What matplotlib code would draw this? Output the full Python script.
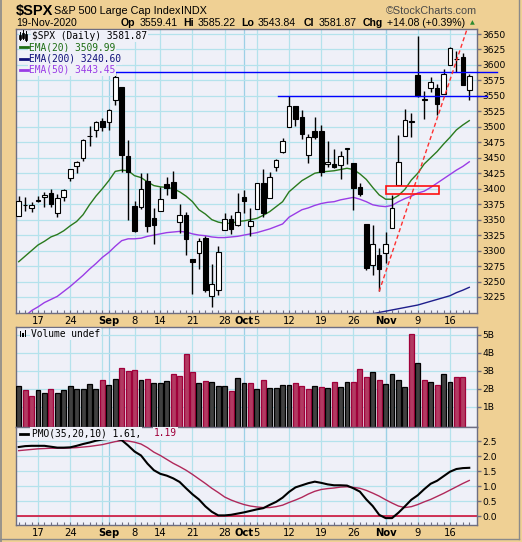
import matplotlib
matplotlib.use("Agg")
import matplotlib.pyplot as plt
from matplotlib.patches import Rectangle
from matplotlib.lines import Line2D
import matplotlib.transforms as mtrans
import numpy as np

# ---------------- data ----------------
dates = ["Aug12","Aug13","Aug14","Aug17","Aug18","Aug19","Aug20","Aug21","Aug24","Aug25",
         "Aug26","Aug27","Aug28","Aug31","Sep1","Sep2","Sep3","Sep4","Sep8","Sep9",
         "Sep10","Sep11","Sep14","Sep15","Sep16","Sep17","Sep18","Sep21","Sep22","Sep23",
         "Sep24","Sep25","Sep28","Sep29","Sep30","Oct1","Oct2","Oct5","Oct6","Oct7",
         "Oct8","Oct9","Oct12","Oct13","Oct14","Oct15","Oct16","Oct19","Oct20","Oct21",
         "Oct22","Oct23","Oct26","Oct27","Oct28","Oct29","Oct30","Nov2","Nov3","Nov4",
         "Nov5","Nov6","Nov9","Nov10","Nov11","Nov12","Nov13","Nov16","Nov17","Nov18","Nov19"]

opens = [3355.46, 3372.95, 3368.66, 3380.86, 3387.04, 3392.51, 3360.48, 3386.01, 3418.09, 3435.95,
         3449.97, 3485.14, 3494.69, 3509.73, 3507.44, 3543.76, 3564.74, 3453.60, 3371.88, 3369.82,
         3412.56, 3352.70, 3363.56, 3407.73, 3411.23, 3346.86, 3357.38, 3285.57, 3295.75, 3320.11,
         3226.14, 3236.66, 3333.90, 3350.92, 3341.21, 3385.87, 3338.94, 3367.27, 3408.74, 3384.56,
         3434.28, 3459.67, 3500.02, 3534.01, 3515.47, 3453.72, 3493.50, 3493.66, 3439.38, 3439.91,
         3438.50, 3464.90, 3441.42, 3403.15, 3342.48, 3277.17, 3293.59, 3296.20, 3336.25, 3406.46,
         3485.74, 3508.34, 3583.04, 3543.26, 3563.22, 3562.67, 3552.57, 3600.16, 3610.31, 3612.09, 3559.41]
highs = [3387.89, 3387.24, 3378.51, 3387.59, 3395.06, 3399.54, 3390.80, 3399.96, 3432.09, 3444.21,
         3481.07, 3501.38, 3509.23, 3514.77, 3528.03, 3588.11, 3564.85, 3479.15, 3379.97, 3424.77,
         3425.55, 3368.95, 3402.93, 3419.48, 3428.92, 3375.17, 3362.27, 3285.57, 3320.31, 3323.35,
         3278.70, 3306.88, 3360.74, 3357.92, 3393.56, 3397.18, 3369.10, 3409.57, 3431.56, 3426.26,
         3447.28, 3482.34, 3549.85, 3534.01, 3527.94, 3489.08, 3515.76, 3502.42, 3476.93, 3464.86,
         3460.53, 3466.46, 3441.42, 3409.51, 3342.48, 3341.05, 3304.93, 3330.14, 3389.49, 3486.25,
         3529.05, 3521.58, 3645.99, 3557.22, 3581.16, 3569.02, 3593.66, 3628.51, 3623.11, 3619.09, 3585.22]
lows = [3355.46, 3363.35, 3361.64, 3379.22, 3370.15, 3369.66, 3354.69, 3379.31, 3413.13, 3425.84,
        3444.15, 3468.35, 3484.32, 3493.25, 3494.60, 3535.23, 3427.41, 3349.63, 3329.27, 3366.84,
        3329.25, 3310.47, 3363.56, 3389.25, 3384.45, 3328.82, 3292.40, 3229.10, 3270.95, 3232.57,
        3209.45, 3228.44, 3332.91, 3327.54, 3340.47, 3361.39, 3323.69, 3367.27, 3354.54, 3384.56,
        3428.15, 3458.07, 3499.61, 3500.86, 3480.55, 3440.89, 3480.45, 3419.93, 3435.65, 3433.06,
        3415.34, 3440.45, 3364.86, 3388.71, 3268.89, 3259.82, 3233.94, 3279.74, 3336.25, 3405.17,
        3485.74, 3484.34, 3547.48, 3511.91, 3557.00, 3518.58, 3552.57, 3600.16, 3588.68, 3567.33, 3543.84]
closes = [3380.35, 3373.43, 3372.85, 3381.99, 3389.78, 3374.85, 3385.51, 3397.16, 3431.28, 3443.62,
          3478.73, 3484.55, 3508.01, 3500.31, 3526.65, 3580.84, 3455.06, 3426.96, 3331.84, 3398.96,
          3339.19, 3340.97, 3383.54, 3401.20, 3385.49, 3357.01, 3319.47, 3281.06, 3315.57, 3236.92,
          3246.59, 3298.46, 3351.60, 3335.47, 3363.00, 3380.80, 3348.42, 3408.60, 3360.97, 3419.44,
          3446.83, 3477.14, 3534.22, 3511.93, 3488.67, 3483.34, 3483.81, 3426.92, 3443.12, 3435.56,
          3453.49, 3465.39, 3400.97, 3390.68, 3271.03, 3310.11, 3269.96, 3310.24, 3369.16, 3443.44,
          3510.45, 3509.44, 3550.50, 3545.53, 3572.66, 3537.01, 3585.15, 3626.91, 3609.53, 3567.79, 3581.87]

ema20 = [3282, 3291, 3300, 3309, 3315, 3322, 3326, 3332, 3340, 3347,
         3358, 3374, 3388, 3400, 3413, 3428, 3430, 3429, 3421, 3418,
         3411, 3405, 3403, 3402, 3400, 3395, 3388, 3379, 3366, 3359,
         3350, 3346, 3344, 3344, 3347, 3348, 3350, 3352, 3357, 3363,
         3371, 3379, 3395, 3404, 3413, 3419, 3425, 3427, 3428, 3429,
         3431, 3433, 3431, 3424, 3415, 3402, 3390, 3383, 3383, 3389,
         3399, 3414, 3425, 3440, 3450, 3460, 3472, 3483, 3495, 3503, 3509.99]
ema50 = [3188, 3194, 3203, 3209, 3216, 3221, 3226, 3234, 3242, 3251,
         3260, 3270, 3279, 3289, 3297, 3307, 3316, 3319, 3319, 3320,
         3323, 3325, 3327, 3329, 3330, 3331, 3330, 3327, 3325, 3324,
         3322, 3321, 3321, 3322, 3323, 3325, 3327, 3329, 3332, 3335,
         3339, 3343, 3354, 3360, 3366, 3369, 3373, 3376, 3378, 3379,
         3382, 3384, 3386, 3383, 3379, 3374, 3372, 3371, 3373, 3379,
         3384, 3388, 3393, 3396, 3402, 3409, 3416, 3423, 3430, 3436, 3443.45]
ema200_start = 55
ema200 = [3198, 3200, 3202, 3204, 3206, 3208, 3210, 3212, 3215, 3218,
          3221, 3224, 3227, 3232, 3236, 3240.60]

volume = [2.17, 1.91, 1.61, 1.91, 1.74, 1.97, 1.74, 1.91, 2.17, 1.97,
          1.97, 2.25, 1.97, 2.47, 2.19, 2.53, 3.14, 2.97, 3.03, 2.47,
          2.53, 2.30, 2.30, 2.41, 2.80, 2.69, 3.92, 2.92, 2.30, 2.41,
          2.36, 2.13, 2.13, 1.87, 2.58, 2.30, 2.30, 1.99, 2.47, 2.02,
          2.02, 2.19, 2.19, 2.30, 2.13, 1.97, 2.13, 2.08, 2.02, 2.36,
          2.08, 2.36, 2.36, 3.08, 2.65, 2.92, 2.47, 2.25, 2.80, 2.47,
          2.08, 5.04, 3.42, 2.47, 2.36, 2.19, 2.80, 2.36, 2.64, 2.64]

pmo = [2.30, 2.33, 2.34, 2.34, 2.34, 2.31, 2.28, 2.28, 2.29, 2.34,
       2.40, 2.45, 2.51, 2.55, 2.57, 2.58, 2.53, 2.35, 2.15, 2.02,
       1.75, 1.53, 1.41, 1.35, 1.26, 1.14, 0.93, 0.73, 0.56, 0.33,
       0.15, 0.03, 0.03, 0.05, 0.09, 0.13, 0.18, 0.23, 0.27, 0.38,
       0.48, 0.62, 0.81, 0.96, 1.03, 1.10, 1.15, 1.11, 1.06, 1.03,
       1.03, 1.02, 0.93, 0.82, 0.56, 0.34, 0.05, -0.06, -0.06, 0.12,
       0.33, 0.55, 0.70, 0.90, 1.08, 1.18, 1.33, 1.48, 1.57, 1.60, 1.61]
pmo_signal = [2.18, 2.20, 2.22, 2.24, 2.25, 2.26, 2.26, 2.26, 2.27, 2.28,
              2.30, 2.32, 2.35, 2.38, 2.43, 2.48, 2.51, 2.50, 2.46, 2.40,
              2.28, 2.13, 2.02, 1.89, 1.76, 1.65, 1.53, 1.39, 1.24, 1.09,
              0.93, 0.79, 0.64, 0.54, 0.46, 0.39, 0.34, 0.31, 0.29, 0.29,
              0.32, 0.37, 0.46, 0.54, 0.63, 0.74, 0.83, 0.89, 0.92, 0.94,
              0.97, 0.98, 0.96, 0.93, 0.86, 0.77, 0.67, 0.55, 0.44, 0.34,
              0.29, 0.32, 0.39, 0.48, 0.56, 0.66, 0.76, 0.87, 0.98, 1.09, 1.19]

# annotations (levels drawn by the analyst)
resist_levels = [3588.11, 3549.85]
resist_start = [15, 40.3]
resist_end = [74.3, 72.7]
trend_x = [56, 71.2]
trend_y = [3233.94, 3706.0]
box_x = [57.1, 65.3]
box_y = [3391, 3404]

week_lines = [3, 8, 13, 18, 22, 27, 32, 37, 42, 47, 52, 57, 62, 67]
month_lines = [14, 35, 57]
xlabels = [(3, "17", False), (8, "24", False), (14, "Sep", True), (18, "8", False),
           (22, "14", False), (27, "21", False), (32, "28", False), (35, "Oct", True),
           (37, "5", False), (42, "12", False), (47, "19", False), (52, "26", False),
           (57, "Nov", True), (62, "9", False), (67, "16", False)]

price_ticks = list(range(3225, 3651, 25))
vol_ticks = [1, 2, 3, 4, 5]
vol_labels = ["1B", "2B", "3B", "4B", "5B"]
pmo_ticks = [0.0, 0.5, 1.0, 1.5, 2.0, 2.5]

# ---------------- style ----------------
TAN = "#EFD094"
PLOTBG = "#EFF0F8"
GRID = "#B4E2EC"
GRIDM = "#9CD0E6"
SPINE = "#6E6E82"
VRED_F = "#B23A62"
VRED_E = "#A0003A"
VBLK_F = "#404040"

W, H = 522, 542
fig = plt.figure(figsize=(W / 100, H / 100), dpi=100)
fig.patch.set_facecolor(TAN)


def rect(l, t, r, b):
    return [l / W, 1 - b / H, (r - l) / W, (b - t) / H]


def ftext(x, y, s, **kw):
    kw.setdefault("va", "center")
    kw.setdefault("ha", "left")
    return fig.text(x / W, 1 - y / H, s, **kw)


XL = (-0.42, 71.2)
n = len(closes)
xs = np.arange(n)

ax = fig.add_axes(rect(16, 29, 477, 313))
axv = fig.add_axes(rect(16, 327, 477, 427))
axp = fig.add_axes(rect(16, 427, 477, 525))


def style(a, yt, ylab, ylim):
    a.set_facecolor(PLOTBG)
    a.set_xlim(*XL)
    a.set_ylim(*ylim)
    for g in week_lines:
        a.axvline(g, color=GRID, lw=0.9, zorder=0)
    for g in month_lines:
        a.axvline(g, color=GRIDM, lw=0.9, zorder=0)
    for v in yt:
        a.axhline(v, color=GRID, lw=0.9, zorder=0)
    a.yaxis.tick_right()
    a.set_yticks(yt)
    a.set_yticklabels(ylab)
    a.tick_params(axis="y", direction="out", length=3, width=1, color=SPINE,
                  labelsize=6.6, pad=1, labelcolor="black")
    a.set_xticks([])
    a.set_xticks(xs, minor=True)
    a.tick_params(axis="x", which="minor", direction="in", length=2, width=0.8,
                  color=SPINE, bottom=True, top=False)
    a.tick_params(axis="y", which="minor", left=False, right=False)
    for s in a.spines.values():
        s.set_color(SPINE)
        s.set_linewidth(1.0)


style(ax, price_ticks, [str(t) for t in price_ticks], (3199.1, 3658.1))
style(axv, vol_ticks, vol_labels, (-0.12, 5.43))
style(axp, pmo_ticks, ["%.1f" % t for t in pmo_ticks], (-0.289, 2.965))
axv.tick_params(axis="x", which="minor", length=0)

# ---------------- price panel ----------------
o = np.array(opens); c = np.array(closes); hi = np.array(highs); lo = np.array(lows)
ax.vlines(xs, lo, hi, color="black", lw=1.0, zorder=3)
up = c >= o
ax.bar(xs, np.abs(c - o), bottom=np.minimum(o, c), width=0.72,
       color=np.where(up, "white", "black"), edgecolor="black", linewidth=0.8, zorder=4)

ax.plot(xs, ema20, color="#2A7A1E", lw=1.0, zorder=2)
ax.plot(xs, ema50, color="#9A3CE6", lw=1.0, zorder=2)
ax.plot(np.arange(ema200_start, ema200_start + len(ema200)), ema200, color="#1E1E8C", lw=1.0, zorder=2)

for lvl, s0, s1 in zip(resist_levels, resist_start, resist_end):
    ax.plot([s0, s1], [lvl, lvl], color="#0000FF", lw=1.0, zorder=5, clip_on=False)
ax.plot(trend_x, trend_y, color="#FF3030", lw=1.0, ls=(0, (3, 2)), zorder=5)
ax.add_patch(Rectangle((box_x[0], box_y[0]), box_x[1] - box_x[0], box_y[1] - box_y[0],
                       fill=False, edgecolor="#FF1010", lw=1.2, zorder=5))

# ---------------- volume panel ----------------
vcol = []
vedge = []
for i in range(len(volume)):
    if i == 0 or closes[i] >= closes[i - 1]:
        vcol.append(VBLK_F); vedge.append("black")
    else:
        vcol.append(VRED_F); vedge.append(VRED_E)
axv.bar(np.arange(len(volume)), np.array(volume) + 0.12, bottom=-0.12, width=0.76,
        color=vcol, edgecolor=vedge, linewidth=0.9, zorder=3)

# ---------------- PMO panel ----------------
axp.axhline(0, color="#D0103A", lw=1.2, zorder=2)
axp.plot(xs, pmo_signal, color="#B0285A", lw=1.0, zorder=3)
axp.plot(xs, pmo, color="black", lw=1.5, zorder=4)

# ---------------- x labels ----------------
bt = mtrans.blended_transform_factory(ax.transData, fig.transFigure)
for i, s, b in xlabels:
    for yy in (320.6, 532.7):
        fig.text(i, 1 - yy / H, s, transform=bt, ha="center", va="center",
                 fontsize=7.2, fontweight="bold" if b else "normal", family="DejaVu Sans")

# ---------------- legends ----------------
MONO = "DejaVu Sans Mono"
lb = dict(boxstyle="square,pad=0.12", fc=PLOTBG, ec="none")
# candle icon
for (x0, top, bot, fill) in [(19.5, 33, 39, "black"), (22.5, 31, 38, "black"), (25.5, 32, 40, "black")]:
    fig.add_artist(Line2D([x0 / W, x0 / W], [1 - (top - 1) / H, 1 - (bot + 1) / H],
                          color="black", lw=0.7, zorder=6))
    fig.add_artist(Rectangle(((x0 - 1) / W, 1 - bot / H), 2 / W, (bot - top - 2) / H,
                             facecolor=fill, edgecolor="black", lw=0.5, zorder=6))
ftext(32, 36, "$SPX (Daily) 3581.87", fontsize=6.9, family=MONO, bbox=lb)
for y, s, col in [(47, "EMA(20) 3509.99", "#1E6E14"), (58.6, "EMA(200) 3240.60", "#10107A"),
                  (69.8, "EMA(50) 3443.45", "#9A3CE6")]:
    fig.add_artist(Line2D([19.5 / W, 27.5 / W], [1 - y / H, 1 - y / H], color=col, lw=2, zorder=6))
    ftext(29, y, s, fontsize=6.9, family=MONO, color=col, bbox=lb)

# volume legend icon + text
for (x0, top) in [(19.5, 331), (22, 333), (24.5, 330)]:
    fig.add_artist(Rectangle((x0 / W, 1 - 337 / H), 1.6 / W, (337 - top) / H,
                             facecolor="black", edgecolor="none", zorder=6))
ftext(31, 334, "Volume undef", fontsize=6.9, family=MONO, bbox=lb)

fig.add_artist(Line2D([19.5 / W, 27.5 / W], [1 - 433.5 / H, 1 - 433.5 / H], color="black", lw=2, zorder=6))
ftext(31.5, 433.5, "PMO(35,20,10) 1.61,", fontsize=6.9, family=MONO, bbox=lb)
ftext(154, 433.5, "1.19", fontsize=6.9, family=MONO, color="#A0003A", bbox=lb)

# ---------------- header ----------------
HF = "Liberation Sans"
ftext(15.5, 11, "$SPX", fontsize=10.5, fontweight="bold", family=HF)
ftext(54, 11, "S&P 500 Large Cap Index", fontsize=7.8, family=HF)
ftext(181.5, 11, "INDX", fontsize=7.8, family=HF)
ftext(476.5, 11, "\u00a9StockCharts.com", fontsize=7.8, family=HF, color="#4A4A4A", ha="right")
ftext(16, 23.5, "19-Nov-2020", fontsize=7.6, family=HF)
parts = [(120.7, "Op", True), (139.3, "3559.41", False), (183.3, "Hi", True), (197.3, "3585.22", False),
         (241.7, "Lo", True), (257.3, "3543.84", False), (304, "Cl", True), (318.3, "3581.87", False),
         (362.7, "Chg", True), (387.3, "+14.08 (+0.39%)", False)]
for x, s, b in parts:
    ftext(x, 23.5, s, fontsize=7.6, family=HF, fontweight="bold" if b else "normal")
ftext(472.5, 23, "\u25b2", fontsize=4.5, color="#2E8B2E", ha="center", family="DejaVu Sans")

# outer frame (left, right, bottom)
FR = "#8A8A8A"
fig.add_artist(Line2D([0.6 / W, 0.6 / W], [0, 1], color=FR, lw=1.2, zorder=10))
fig.add_artist(Line2D([518.5 / W, 518.5 / W], [1 - 538.5 / H, 1], color=FR, lw=1.0, zorder=10))
fig.add_artist(Line2D([0, 518.5 / W], [1 - 538.5 / H, 1 - 538.5 / H], color=FR, lw=1.0, zorder=10))

fig.savefig("out.png", dpi=100, facecolor=TAN)
